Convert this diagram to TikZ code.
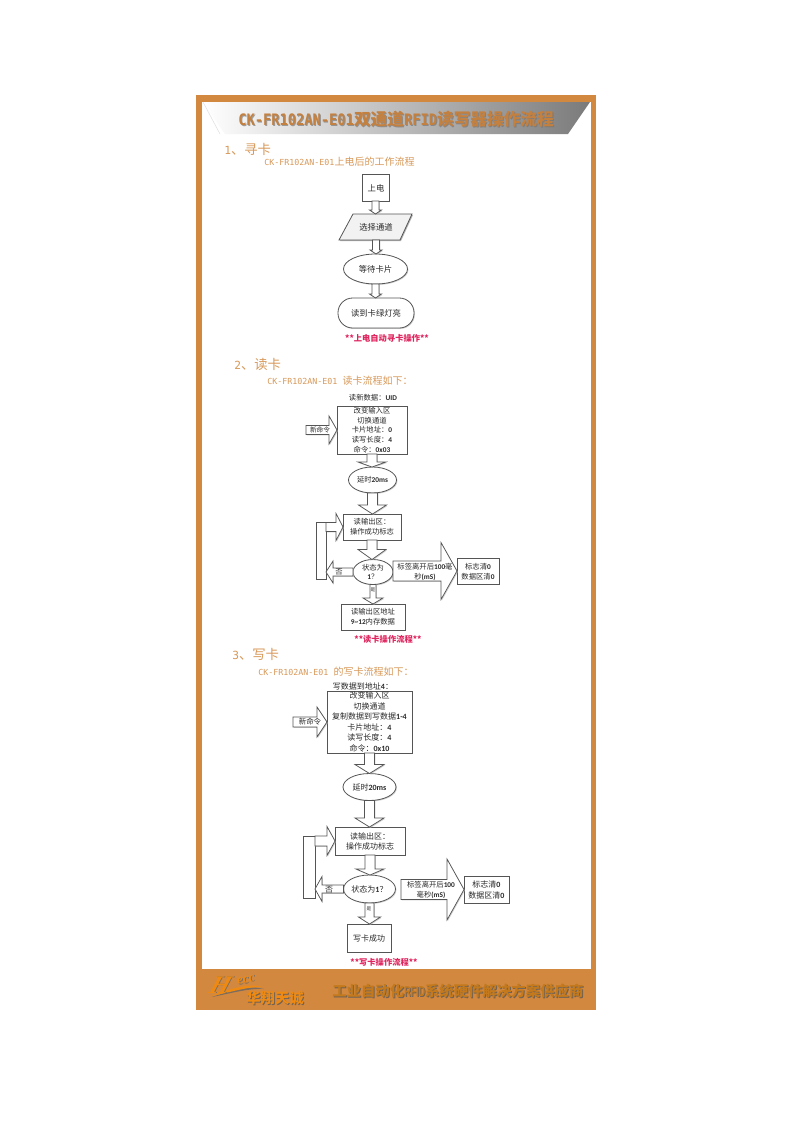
\documentclass[tikz,border=0pt]{standalone}
\usepackage{fontspec}
\usepackage{graphicx}
\usetikzlibrary{shapes.geometric,shadows,calc}
\newfontfamily\zh{Noto Sans CJK SC}
\newfontfamily\lm{DejaVu Sans Mono}
\newfontfamily\cb{Carlito}
\newfontfamily\ls{Liberation Sans}
\newfontfamily\lsr{Liberation Serif}
\definecolor{frameC}{HTML}{D38840}
\definecolor{titleC}{HTML}{C4803F}
\definecolor{headC}{HTML}{D8995A}
\definecolor{redC}{HTML}{E0245E}
\definecolor{inkC}{HTML}{2A2A2A}
\definecolor{lineC}{HTML}{555555}
\definecolor{goldC}{HTML}{C47A1C}
\definecolor{logoC}{HTML}{EE8A12}
\newcommand\fs[2]{\fontsize{#1}{#2}\selectfont}
\newcommand\Cb[1]{{\cb\bfseries #1}}
\newcommand\TM[1]{\scalebox{1}[1.15]{\fs{10.3}{14}\lm\bfseries #1}}
\newcommand\SM[1]{{\fs{8.4}{12}\lm #1}}
\newcommand\UM[1]{{\fs{6.25}{10}\lm #1}}
\newcommand\titletext{\TM{CK-FR102AN-E01}双通道\TM{RFID}读写器操作流程}
\newcommand\foottext{工业自动化\scalebox{0.62}[1]{\ls\bfseries RFID}系统硬件解决方案供应商}
\newcommand\darr[5]{\draw[blk] let \p1=(#1),\p2=(#2) in
 (\x1-#3*.75pt,\y1) -- (\x1-#3*.75pt,\y2+#5*.75pt) -- (\x1-#4*.75pt,\y2+#5*.75pt) -- (\x1,\y2)
 -- (\x1+#4*.75pt,\y2+#5*.75pt) -- (\x1+#3*.75pt,\y2+#5*.75pt) -- (\x1+#3*.75pt,\y1) -- cycle;}
\newcommand\harr[5]{\draw[blk] let \p1=(#1),\p2=(#2) in
 (\x1,\y2+#3*.75pt) -- (\x2-#5*.75pt,\y2+#3*.75pt) -- (\x2-#5*.75pt,\y2+#4*.75pt) -- (\x2,\y2)
 -- (\x2-#5*.75pt,\y2-#4*.75pt) -- (\x2-#5*.75pt,\y2-#3*.75pt) -- (\x1,\y2-#3*.75pt) -- cycle;}
\tikzset{
 wh/.style 2 args={minimum width=#1*0.75pt,minimum height=#2*0.75pt},
 shd/.style={drop shadow={shadow xshift=.7pt,shadow yshift=-.7pt,fill=black!30,opacity=.6}},
 boxn/.style={draw=lineC,fill=white,line width=.6pt,inner sep=0pt,outer sep=0pt,shd},
 elln/.style={boxn,ellipse},
 blk/.style={draw=lineC,fill=white,line width=.55pt,line join=miter,shd},
 lab/.style={text=inkC,inner sep=0pt,align=center,font=\zh\fs{5.5}{7.35}},
 labb/.style={text=inkC,inner sep=0pt,align=center,font=\zh\fs{6}{7.85}},
 lab2/.style={text=inkC,inner sep=0pt,align=center,font=\zh\fs{6.25}{8}},
 labt/.style={text=inkC,inner sep=0pt,align=center,font=\zh\fs{3.5}{4}},
 head/.style={text=headC,inner sep=0pt,anchor=west,font=\zh\fs{10}{12}},
 sub/.style={text=headC,inner sep=0pt,anchor=west,font=\zh\fs{7.5}{10}},
 note/.style={text=redC,inner sep=0pt,font=\zh\bfseries\fs{6.2}{9}},
}
\begin{document}
\begin{tikzpicture}[x=0.75pt,y=-0.75pt]
\useasboundingbox (0,0) rectangle (793,1122);
\fill[white] (0,0) rectangle (793,1122);
% frame
\fill[frameC] (196,95) rectangle (596,1010);
\fill[white] (202,102) rectangle (591,969);
% title band
\shade[left color=white,right color=black!52,shading angle=90] (203,102) -- (590,102) -- (568,134) -- (225,134) -- cycle;
\draw[black!12,line width=.4pt] (203,102) -- (220,134);
\node[inner sep=0pt,anchor=west,text=black!55,opacity=.65,font=\zh\bfseries\fs{12.5}{14}] (titleS) at (239,120) {\titletext};
\node[inner sep=0pt,anchor=west,text=titleC,font=\zh\bfseries\fs{12.5}{14}] (title) at (238,119) {\titletext};
% section 1
\node[head] (h1) at (224,149) {\SM{1}、寻卡};
\node[sub] (s1) at (264,162) {\UM{CK-FR102AN-E01}上电后的工作流程};
\node[boxn,wh={27}{27}] (a1) at (375.5,187.5) {};
\fill[black!30] (354,215) -- (413,215) -- (401,241) -- (340,241) -- cycle;
\draw[lineC,fill=black!5,line width=.6pt] (353,214) -- (412,214) -- (400,240) -- (339,240) -- cycle;
\node[inner sep=0pt,outer sep=0pt,wh={60}{26}] (a2) at (376,227) {};
\node[elln,wh={64}{30}] (a3) at (375.5,269) {};
\node[boxn,wh={76}{30},rounded corners=11pt] (a4) at (376,313) {};
\darr{a1.south}{a2.north}{3.5}{6}{4}
\darr{a2.south}{a3.north}{3.5}{6}{4}
\darr{a3.south}{a4.north}{3.5}{6}{4}
\node[lab2] (a1t) at (376,188) {上电};
\node[lab2] (a2t) at (376,227) {选择通道};
\node[lab2] (a3t) at (375.5,269) {等待卡片};
\node[lab2] (a4t) at (376,313) {读到卡绿灯亮};
\node[note] (n1) at (387,338) {**上电自动寻卡操作**};
% section 2
\node[head] (h2) at (234,364) {\SM{2}、读卡};
\node[sub] (s2) at (267,381) {\UM{CK-FR102AN-E01 }读卡流程如下：};
\node[lab] (b0) at (373,398) {读新数据：\Cb{UID}};
\node[boxn,wh={70}{48}] (b1) at (372,430) {};
\coordinate (bc) at (306,430);
\harr{bc}{b1.west}{4.5}{14}{8}
\node[lab,font=\zh\fs{5.5}{7.3}] (b1t) at (372,430) {改变输入区\\切换通道\\卡片地址：\Cb{0}\\读写长度：\Cb{4}\\命令：\Cb{0x03}};
\node[lab,font=\zh\fs{5}{7}] (bct) at (320,430) {新命令};
\node[elln,wh={48}{26}] (b2) at (372.5,480) {};
\node[boxn,wh={58}{26}] (b3) at (372,527) {};
\node[boxn,wh={10}{57}] (bl) at (321,550.5) {};
\node[elln,wh={40}{25}] (b4) at (373,572) {};
\node[boxn,wh={42}{26}] (b5) at (478,571) {};
\node[boxn,wh={64}{26}] (b6) at (373,617) {};
\darr{b1.south}{b2.north}{5}{14}{5}
\darr{b2.south}{b3.north}{5}{14}{9}
\darr{b3.south}{b4.north}{5}{14}{10}
\darr{b4.south}{b6.north}{3}{10}{6}
\harr{b3.west -| bl.east}{b3.west}{4.5}{13.5}{7}
\harr{b4.west}{b4.west -| bl.east}{4}{11}{-7}
\harr{b4.east}{b5.west}{10}{28.5}{16}
\node[lab] (b2t) at (372.5,480) {延时\Cb{20ms}};
\node[lab] (b3t) at (372,527) {读输出区：\\操作成功标志};
\node[lab] (b4t) at (373,572) {状态为\\\Cb{1}？};
\node[lab] (b4n) at (339,572) {否};
\node[labt] (b4y) at (373,590) {是};
\node[lab] (b5t) at (478,572) {标志清\Cb{0}\\数据区清\Cb{0}};
\node[lab] (b6t) at (373,617) {读输出区地址\\\Cb{9\textasciitilde12}内存数据};
\node[lab] (b7t) at (425,572) {标签离开后\Cb{100}毫\\秒\Cb{(mS)}};
\node[note] (n2) at (388,639) {**读卡操作流程**};
% section 3
\node[head] (h3) at (232,654) {\SM{3}、写卡};
\node[sub] (s3) at (258,672) {\UM{CK-FR102AN-E01 }的写卡流程如下：};
\node[labb] (c0) at (363,686) {写数据到地址\Cb{4}：};
\node[boxn,wh={85}{62}] (c1) at (369.5,722) {};
\coordinate (cc) at (293,722);
\harr{cc}{c1.west}{5}{15}{10}
\node[labb] (c1t) at (369.5,722) {改变输入区\\切换通道\\复制数据到写数据\Cb{1-4}\\卡片地址：\Cb{4}\\读写长度：\Cb{4}\\命令：\Cb{0x10}};
\node[lab,font=\zh\fs{5.6}{7}] (cct) at (310,722) {新命令};
\node[elln,wh={53}{27}] (c2) at (369.5,787) {};
\node[boxn,wh={70}{28}] (c3) at (370,841) {};
\node[boxn,wh={12}{62}] (cl) at (309,867) {};
\node[elln,wh={52}{28}] (c4) at (369.5,889) {};
\node[boxn,wh={45}{27}] (c5) at (486.5,889.5) {};
\node[boxn,wh={44}{28}] (c6) at (369,938) {};
\coordinate (c7) at (401,889.5);
\darr{c1.south}{c2.north}{5}{14.5}{9}
\darr{c2.south}{c3.north}{5}{14.5}{9}
\darr{c3.south}{c4.north}{5}{14}{6}
\darr{c4.south}{c6.north}{4.5}{11}{7}
\harr{c3.west -| cl.east}{c3.west}{5}{14.5}{8}
\harr{c4.west}{c4.west -| cl.east}{4}{12.5}{-7}
\harr{c7}{c5.west}{10}{30.5}{17}
\node[labb] (c2t) at (369.5,787) {延时\Cb{20ms}};
\node[labb] (c3t) at (370,841.5) {读输出区：\\操作成功标志};
\node[labb] (c4t) at (369.5,889) {状态为\Cb{1}？};
\node[labb] (c4n) at (329,890) {否};
\node[labt] (c4y) at (369,909) {是};
\node[labb] (c5t) at (486.5,890) {标志清\Cb{0}\\数据区清\Cb{0}};
\node[labb] (c6t) at (369,938) {写卡成功};
\node[lab] (c7t) at (431,890) {标签离开后\Cb{100}\\毫秒\Cb{(mS)}};
\node[note] (n3) at (384,962) {**写卡操作流程**};
% footer
\node[inner sep=0pt,anchor=west,text=black!65,opacity=.8,font=\zh\bfseries\fs{10.8}{13}] (fS) at (333,992) {\foottext};
\node[inner sep=0pt,anchor=west,text=goldC,font=\zh\bfseries\fs{10.8}{13}] (f) at (332,991) {\foottext};
\fill[black!60,opacity=.8] (212,997) .. controls (232,990) and (250,985) .. (264,989) .. controls (250,988) and (232,993) .. (212,997) -- cycle;
\fill[logoC] (211,996) .. controls (232,988) and (250,983) .. (263,987) .. controls (250,986) and (232,992) .. (211,996) -- cycle;
\node[inner sep=0pt,text=black!60,opacity=.8,font=\lsr\itshape\bfseries\fs{19}{20},xslant=0.35] (logoHS) at (222,985.5) {H};
\node[inner sep=0pt,text=logoC,font=\lsr\itshape\bfseries\fs{19}{20},xslant=0.35] (logoH) at (221,985) {H};
\node[inner sep=0pt,text=black!60,opacity=.8,rotate=12,font=\lsr\itshape\bfseries\fs{10}{11}] (logoES) at (247,980.5) {ecc};
\node[inner sep=0pt,text=logoC,rotate=12,font=\lsr\itshape\bfseries\fs{10}{11}] (logoE) at (246,980) {ecc};
\node[inner sep=0pt,text=black!65,opacity=.8,font=\zh\bfseries\fs{10.7}{13}] (brS) at (276,999) {华翔天诚};
\node[inner sep=0pt,text=logoC,font=\zh\bfseries\fs{10.7}{13}] (br) at (275,998) {华翔天诚};
\end{tikzpicture}
\end{document}
